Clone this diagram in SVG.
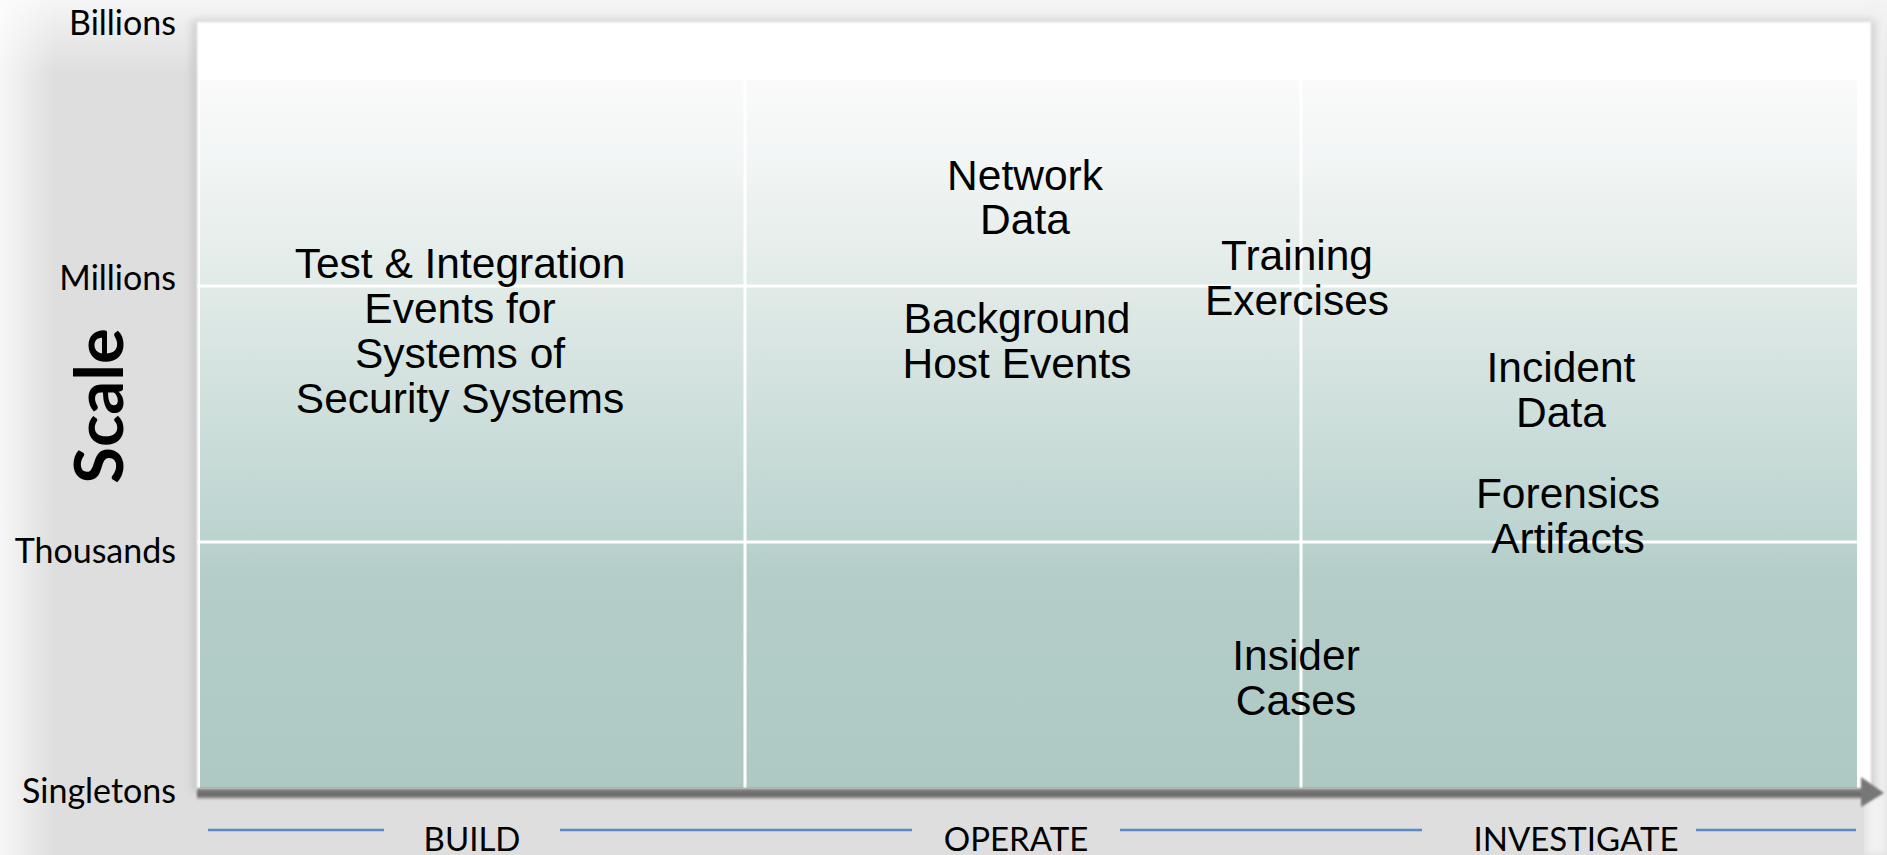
<svg xmlns="http://www.w3.org/2000/svg" width="1887" height="855" viewBox="0 0 1887 855">
  <style>
    .axis { font-family: Lato, "Open Sans", sans-serif; font-size: 34px; fill: #000; }
    .phase { font-family: Lato, "Open Sans", sans-serif; font-size: 33px; fill: #000; text-anchor: middle; }
    .node text { font-family: "Liberation Sans", Arial, sans-serif; font-size: 42.5px; fill: #000; text-anchor: middle; }
    .grid { stroke: #ffffff; stroke-width: 3; }
    .rule { stroke: #5a89c4; stroke-width: 2.5; }
  </style>
  <defs>
    <linearGradient id="fieldFill" x1="0" y1="80" x2="0" y2="788" gradientUnits="userSpaceOnUse">
      <stop offset="0" stop-color="#fafafa"/>
      <stop offset="0.1" stop-color="#f3f6f6"/>
      <stop offset="0.3" stop-color="#e0eae7"/>
      <stop offset="0.64" stop-color="#bcd4d0"/>
      <stop offset="0.7" stop-color="#b4cdc9"/>
      <stop offset="1" stop-color="#aec9c4"/>
    </linearGradient>
    <linearGradient id="leftGlow" x1="0" y1="0" x2="1" y2="0">
      <stop offset="0" stop-color="#ffffff" stop-opacity="0.75"/>
      <stop offset="1" stop-color="#ffffff" stop-opacity="0"/>
    </linearGradient>
    <linearGradient id="topGlow" x1="0" y1="0" x2="0" y2="1">
      <stop offset="0" stop-color="#ffffff" stop-opacity="0.7"/>
      <stop offset="1" stop-color="#ffffff" stop-opacity="0"/>
    </linearGradient>
    <linearGradient id="barFill" x1="0" y1="0" x2="0" y2="1">
      <stop offset="0" stop-color="#a0a0a0"/>
      <stop offset="0.35" stop-color="#707070"/>
      <stop offset="0.7" stop-color="#6a6a6a"/>
      <stop offset="1" stop-color="#b8b8b8"/>
    </linearGradient>
    <filter id="soft" x="-5%" y="-5%" width="110%" height="110%">
      <feGaussianBlur stdDeviation="4"/>
    </filter>
    <filter id="edge" x="-5%" y="-50%" width="110%" height="200%">
      <feGaussianBlur stdDeviation="1.2"/>
    </filter>
  </defs>

  <!-- page background with light vignette on the edges -->
  <rect x="0" y="0" width="1887" height="855" fill="#dedede"/>
  <rect x="0" y="0" width="55" height="855" fill="url(#leftGlow)"/>
  <rect x="0" y="0" width="1887" height="75" fill="url(#topGlow)"/>
  <rect x="1866" y="0" width="21" height="855" fill="#f2f2f2" filter="url(#soft)"/>

  <!-- chart panel -->
  <g id="panel">
    <rect x="192" y="20" width="1684" height="772" fill="#b0b0b0" opacity="0.5" filter="url(#soft)"/>
    <rect x="197" y="22" width="1674" height="768" fill="#ffffff" filter="url(#edge)"/>
    <rect x="200" y="80" width="1657" height="708" fill="url(#fieldFill)"/>
  </g>

  <!-- quadrant grid -->
  <g id="grid">
    <line class="grid" x1="197" y1="286" x2="1857" y2="286"/>
    <line class="grid" x1="197" y1="542" x2="1857" y2="542"/>
    <line class="grid" x1="745" y1="80" x2="745" y2="788"/>
    <line class="grid" x1="1301" y1="80" x2="1301" y2="788"/>
  </g>

  <!-- horizontal axis arrow -->
  <g id="axis" filter="url(#edge)">
    <rect x="197" y="788" width="1666" height="11" fill="url(#barFill)"/>
    <polygon points="1861,777 1884,793 1861,807" fill="#777777"/>
  </g>

  <!-- vertical scale -->
  <g id="scale-labels">
    <text class="axis" x="176" y="35" text-anchor="end">Billions</text>
    <text class="axis" x="176" y="290" text-anchor="end">Millions</text>
    <text class="axis" x="176" y="563" text-anchor="end">Thousands</text>
    <text class="axis" x="176" y="803" text-anchor="end">Singletons</text>
    <text x="0" y="0" transform="translate(123,406) rotate(-90)" text-anchor="middle" style="font-family: Lato, 'Open Sans', sans-serif; font-weight: 700; font-size: 67px; fill: #000;">Scale</text>
  </g>

  <!-- lifecycle phases -->
  <g id="phases">
    <line class="rule" x1="208" y1="830" x2="384" y2="830"/>
    <line class="rule" x1="560" y1="830" x2="912" y2="830"/>
    <line class="rule" x1="1120" y1="830" x2="1422" y2="830"/>
    <line class="rule" x1="1696" y1="830" x2="1856" y2="830"/>
    <text class="phase" x="472" y="851">BUILD</text>
    <text class="phase" x="1016" y="851">OPERATE</text>
    <text class="phase" x="1576" y="851">INVESTIGATE</text>
  </g>

  <!-- data sources -->
  <g id="test-integration" class="node">
    <text x="460" y="278">Test &amp; Integration</text>
    <text x="460" y="323">Events for</text>
    <text x="460" y="368">Systems of</text>
    <text x="460" y="413">Security Systems</text>
  </g>
  <g id="network-data" class="node">
    <text x="1025" y="190">Network</text>
    <text x="1025" y="234">Data</text>
  </g>
  <g id="background-host-events" class="node">
    <text x="1017" y="333">Background</text>
    <text x="1017" y="378">Host Events</text>
  </g>
  <g id="training-exercises" class="node">
    <text x="1297" y="270">Training</text>
    <text x="1297" y="315">Exercises</text>
  </g>
  <g id="incident-data" class="node">
    <text x="1561" y="382">Incident</text>
    <text x="1561" y="427">Data</text>
  </g>
  <g id="forensics-artifacts" class="node">
    <text x="1568" y="508">Forensics</text>
    <text x="1568" y="553">Artifacts</text>
  </g>
  <g id="insider-cases" class="node">
    <text x="1296" y="670">Insider</text>
    <text x="1296" y="715">Cases</text>
  </g>
</svg>
